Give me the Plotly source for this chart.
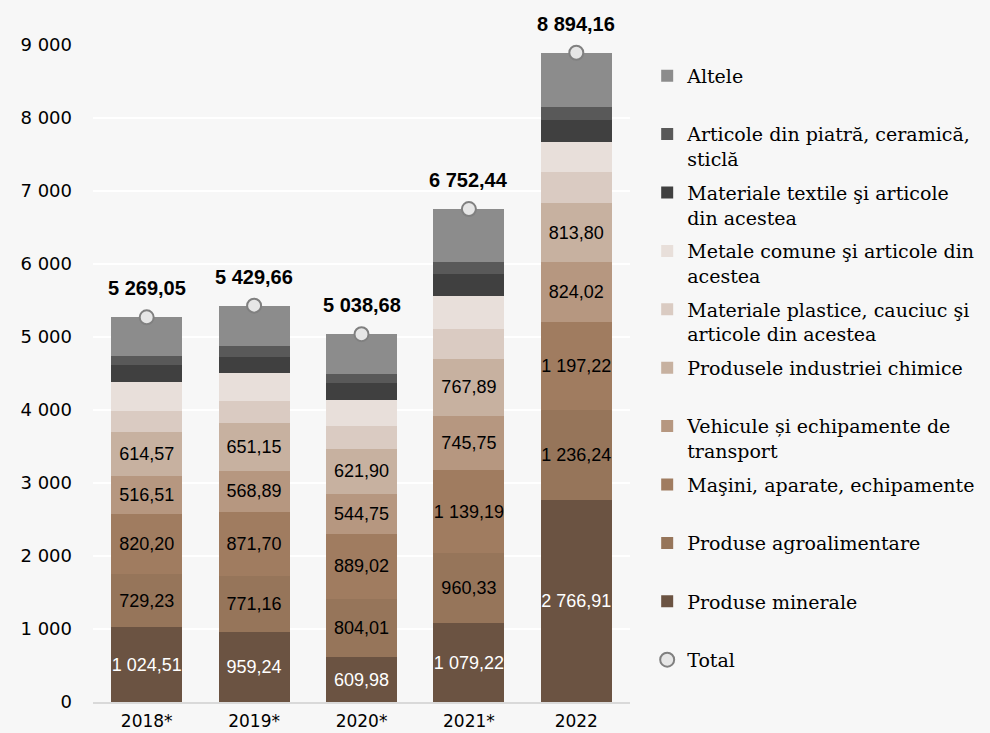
import plotly.graph_objects as go

years = ["2018*", "2019*", "2020*", "2021*", "2022"]
minerale = [1024.51, 959.24, 609.98, 1079.22, 2766.91]
agro = [729.23, 771.16, 804.01, 960.33, 1236.24]
masini = [820.20, 871.70, 889.02, 1139.19, 1197.22]
vehicule = [516.51, 568.89, 544.75, 745.75, 824.02]
chimice = [614.57, 651.15, 621.90, 767.89, 813.80]
plastice = [286, 306, 316, 414, 423]
metale = [397, 383, 352, 452, 407]
textile = [229, 220, 233, 310, 310]
piatra = [123, 150, 124, 160, 174]
altele = [529.03, 548.52, 544.02, 724.06, 741.97]
totals = [5269.05, 5429.66, 5038.68, 6752.44, 8894.16]


def ro(v):
    return f"{v:,.2f}".replace(",", " ").replace(".", ",")


series = [
    ("Produse minerale<br> ", minerale, "#6b5342", True, "white"),
    ("Produse agroalimentare<br> ", agro, "#96755a", True, "black"),
    ("Maşini, aparate, echipamente<br> ", masini, "#a07c60", True, "black"),
    ("Vehicule și echipamente de<br>transport", vehicule, "#b69780", True, "black"),
    ("Produsele industriei chimice<br> ", chimice, "#c7b1a0", True, "black"),
    ("Materiale plastice, cauciuc şi<br>articole din acestea", plastice, "#dacbc2", False, "black"),
    ("Metale comune şi articole din<br>acestea", metale, "#e8dfda", False, "black"),
    ("Materiale textile şi articole<br>din acestea", textile, "#404040", False, "black"),
    ("Articole din piatră, ceramică,<br>sticlă", piatra, "#595959", False, "black"),
    ("Altele<br> ", altele, "#8c8c8c", False, "black"),
]

NUM_FONT = "Liberation Sans"
TICK_FONT = "DejaVu Sans"
LEG_FONT = "DejaVu Serif"

fig = go.Figure()
n = len(series)
for i, (name, vals, color, show, tcol) in enumerate(series):
    if show:
        kw = dict(text=[ro(v) for v in vals], textposition="inside",
                  insidetextanchor="middle", textangle=0,
                  constraintext="none",
                  textfont=dict(family=NUM_FONT, size=18, color=tcol))
    else:
        kw = dict(textposition="none")
    fig.add_trace(go.Bar(
        x=years, y=vals, name=name,
        legendgroup="g%d" % i,
        marker=dict(color=color, line=dict(width=0)),
        legendrank=n - i,
        hoverinfo="skip",
        **kw,
    ))

fig.add_trace(go.Scatter(
    x=years, y=totals, name="Total", mode="markers",
    legendgroup="gt",
    marker=dict(size=14, color="#e6e6e6", line=dict(color="#808080", width=2)),
    legendrank=n + 1,
    cliponaxis=False,
))

# annotations on a category axis are placed by category index
for idx, t in enumerate(totals):
    fig.add_annotation(
        x=idx, y=t, text="<b>" + ro(t) + "</b>",
        showarrow=False, yshift=29,
        font=dict(family=NUM_FONT, size=20, color="black"),
    )

fig.update_layout(
    width=990, height=733,
    barmode="stack", bargap=0.34,
    separators=", ",
    paper_bgcolor="#f7f7f7", plot_bgcolor="#f7f7f7",
    margin=dict(l=93, r=360, t=45, b=31, autoexpand=False),
    showlegend=True,
    legend=dict(
        traceorder="grouped",
        tracegroupgap=6,
        x=1.032, xanchor="left", y=0.982, yanchor="top",
        valign="top",
        font=dict(family=LEG_FONT, size=19, color="black"),
        bgcolor="rgba(0,0,0,0)",
        itemwidth=30,
    ),
    font=dict(family=NUM_FONT, color="black"),
)
fig.update_xaxes(
    type="category", range=[-0.5, len(years) - 0.5],
    showgrid=False, showline=True, linecolor="#d9d9d9", linewidth=2,
    tickfont=dict(family=TICK_FONT, size=17, color="black"),
    ticks="", ticklabelstandoff=3, automargin=False,
)
fig.update_yaxes(
    range=[0, 9000], dtick=1000, tickformat=",d",
    showgrid=True, gridcolor="#ffffff", gridwidth=2,
    zeroline=False, showline=False,
    tickfont=dict(family=TICK_FONT, size=18, color="black"),
    ticklabelstandoff=20, automargin=False,
)

fig.write_html(
    "out.html",
    config={"displayModeBar": False},
    post_script="document.body.style.margin='0';document.body.style.background='#f7f7f7';",
)
